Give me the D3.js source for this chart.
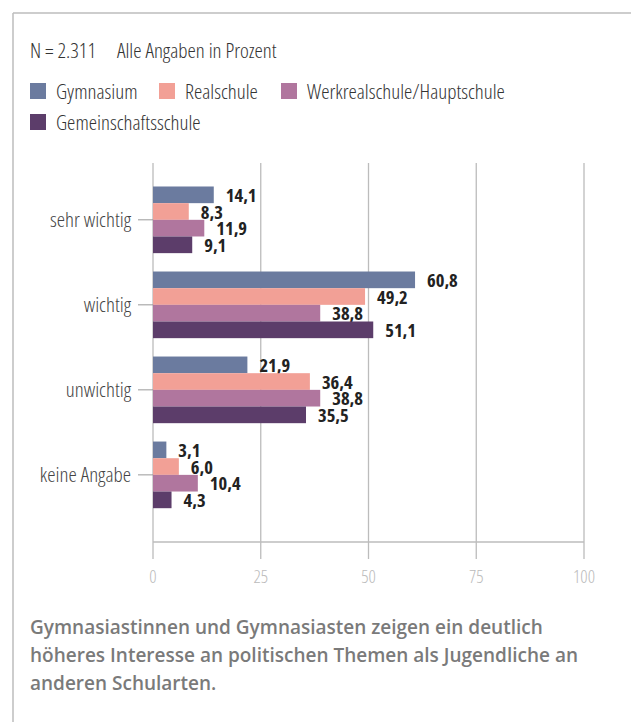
<!DOCTYPE html>
<html>
<head>
<meta charset="utf-8">
<script src="https://cdn.jsdelivr.net/npm/d3@7"></script>
<style>
  body { margin: 0; background: #fff; }
  svg text.cond { font-family: "Open Sans", sans-serif; font-stretch: 75%; font-weight: 300; }
  svg text.val { font-family: "Open Sans", sans-serif; font-stretch: 75%; font-weight: 700; }
</style>
</head>
<body>
<div id="chart"></div>
<script>
// data
var categories = ["sehr wichtig", "wichtig", "unwichtig", "keine Angabe"];
var schools = ["Gymnasium", "Realschule", "Werkrealschule/Hauptschule", "Gemeinschaftsschule"];
var colors = ["#6b7b9f", "#f2a096", "#b0769e", "#5c3d6a"];
var gymnasium = [14.1, 60.8, 21.9, 3.1];
var realschule = [8.3, 49.2, 36.4, 6.0];
var werkreal = [11.9, 38.8, 38.8, 10.4];
var gemeinschaft = [9.1, 51.1, 35.5, 4.3];
var xTicks = [0, 25, 50, 75, 100];

var series = [gymnasium, realschule, werkreal, gemeinschaft];

var width = 631, height = 722;
var svg = d3.select("#chart").append("svg")
    .attr("width", width)
    .attr("height", height);

// frame
svg.append("line").attr("x1", 13).attr("x2", width).attr("y1", 13).attr("y2", 13)
    .attr("stroke", "#bcbcbc").attr("stroke-width", 1.5);
svg.append("line").attr("x1", 13).attr("x2", 13).attr("y1", 13).attr("y2", height)
    .attr("stroke", "#bcbcbc").attr("stroke-width", 1.5);

// header
svg.append("text").attr("class", "cond").attr("x", 30).attr("y", 58)
    .attr("font-size", 21).attr("fill", "#333")
    .text("N = 2.311");
svg.append("text").attr("class", "cond").attr("x", 117).attr("y", 58)
    .attr("font-size", 21).attr("fill", "#333")
    .text("Alle Angaben in Prozent");

// legend
var legendPos = [[30, 83], [159, 83], [281, 83], [30, 114]];
var legend = svg.selectAll("g.legendEntry")
    .data(schools)
    .enter().append("g").attr("class", "legendEntry")
    .attr("transform", function(d, i) { return "translate(" + legendPos[i][0] + "," + legendPos[i][1] + ")"; });
legend.append("rect")
    .attr("width", 16).attr("height", 16)
    .attr("fill", function(d, i) { return colors[i]; });
legend.append("text").attr("class", "cond")
    .attr("x", 26).attr("y", 16)
    .attr("font-size", 21).attr("fill", "#333")
    .text(function(d) { return d; });

// scales
var x = d3.scaleLinear().domain([0, 100]).range([153, 584]);
var y = d3.scaleBand().domain(categories)
    .range([163, 542])
    .paddingInner(0.216).paddingOuter(0.337).align(0.41);
var yInner = d3.scaleBand().domain(d3.range(schools.length))
    .range([0, y.bandwidth()]);

// grid
svg.selectAll("line.grid")
    .data(xTicks)
    .enter().append("line").attr("class", "grid")
    .attr("x1", function(d) { return x(d); })
    .attr("x2", function(d) { return x(d); })
    .attr("y1", 163).attr("y2", 559)
    .attr("stroke", "#bcbcbc").attr("stroke-width", 1.3);

svg.append("line").attr("x1", x(0)).attr("x2", x(100)).attr("y1", 542).attr("y2", 542)
    .attr("stroke", "#bcbcbc").attr("stroke-width", 1.5);

// x tick labels
svg.selectAll("text.xtick")
    .data(xTicks)
    .enter().append("text").attr("class", "xtick cond")
    .attr("x", function(d) { return x(d); })
    .attr("y", 583)
    .attr("text-anchor", "middle")
    .attr("font-size", 18).attr("fill", "#bbbbbb")
    .text(function(d) { return d; });

// category labels + tick lines
var cat = svg.selectAll("g.cat")
    .data(categories)
    .enter().append("g").attr("class", "cat")
    .attr("transform", function(d) { return "translate(0," + (y(d) + y.bandwidth() / 2) + ")"; });
cat.append("line")
    .attr("x1", 138).attr("x2", x(0))
    .attr("stroke", "#999").attr("stroke-width", 1);
cat.append("text").attr("class", "cond")
    .attr("x", 131).attr("dy", "0.36em")
    .attr("text-anchor", "end")
    .attr("font-size", 21).attr("fill", "#444")
    .text(function(d) { return d; });

// bars
series.forEach(function(values, s) {
    var g = svg.append("g");
    g.selectAll("rect")
        .data(values)
        .enter().append("rect")
        .attr("x", x(0))
        .attr("y", function(d, i) { return y(categories[i]) + yInner(s); })
        .attr("width", function(d) { return x(d) - x(0); })
        .attr("height", yInner.bandwidth())
        .attr("fill", colors[s]);
    g.selectAll("text")
        .data(values)
        .enter().append("text").attr("class", "val")
        .attr("x", function(d) { return x(d) + 12; })
        .attr("y", function(d, i) { return y(categories[i]) + yInner(s) + yInner.bandwidth() / 2; })
        .attr("dy", "0.38em")
        .attr("font-size", 18.5).attr("fill", "#222")
        .text(function(d) { return d3.format(".1f")(d).replace(".", ","); });
});

// caption
var caption = ["Gymnasiastinnen und Gymnasiasten zeigen ein deutlich",
               "höheres Interesse an politischen Themen als Jugendliche an",
               "anderen Schularten."];
svg.selectAll("text.caption")
    .data(caption)
    .enter().append("text").attr("class", "caption")
    .attr("x", 30)
    .attr("y", function(d, i) { return 634 + i * 28; })
    .style("font-family", "'Open Sans', sans-serif")
    .attr("font-size", 19).attr("font-weight", 600).attr("fill", "#7a7a7a")
    .text(function(d) { return d; });
</script>
</body>
</html>
